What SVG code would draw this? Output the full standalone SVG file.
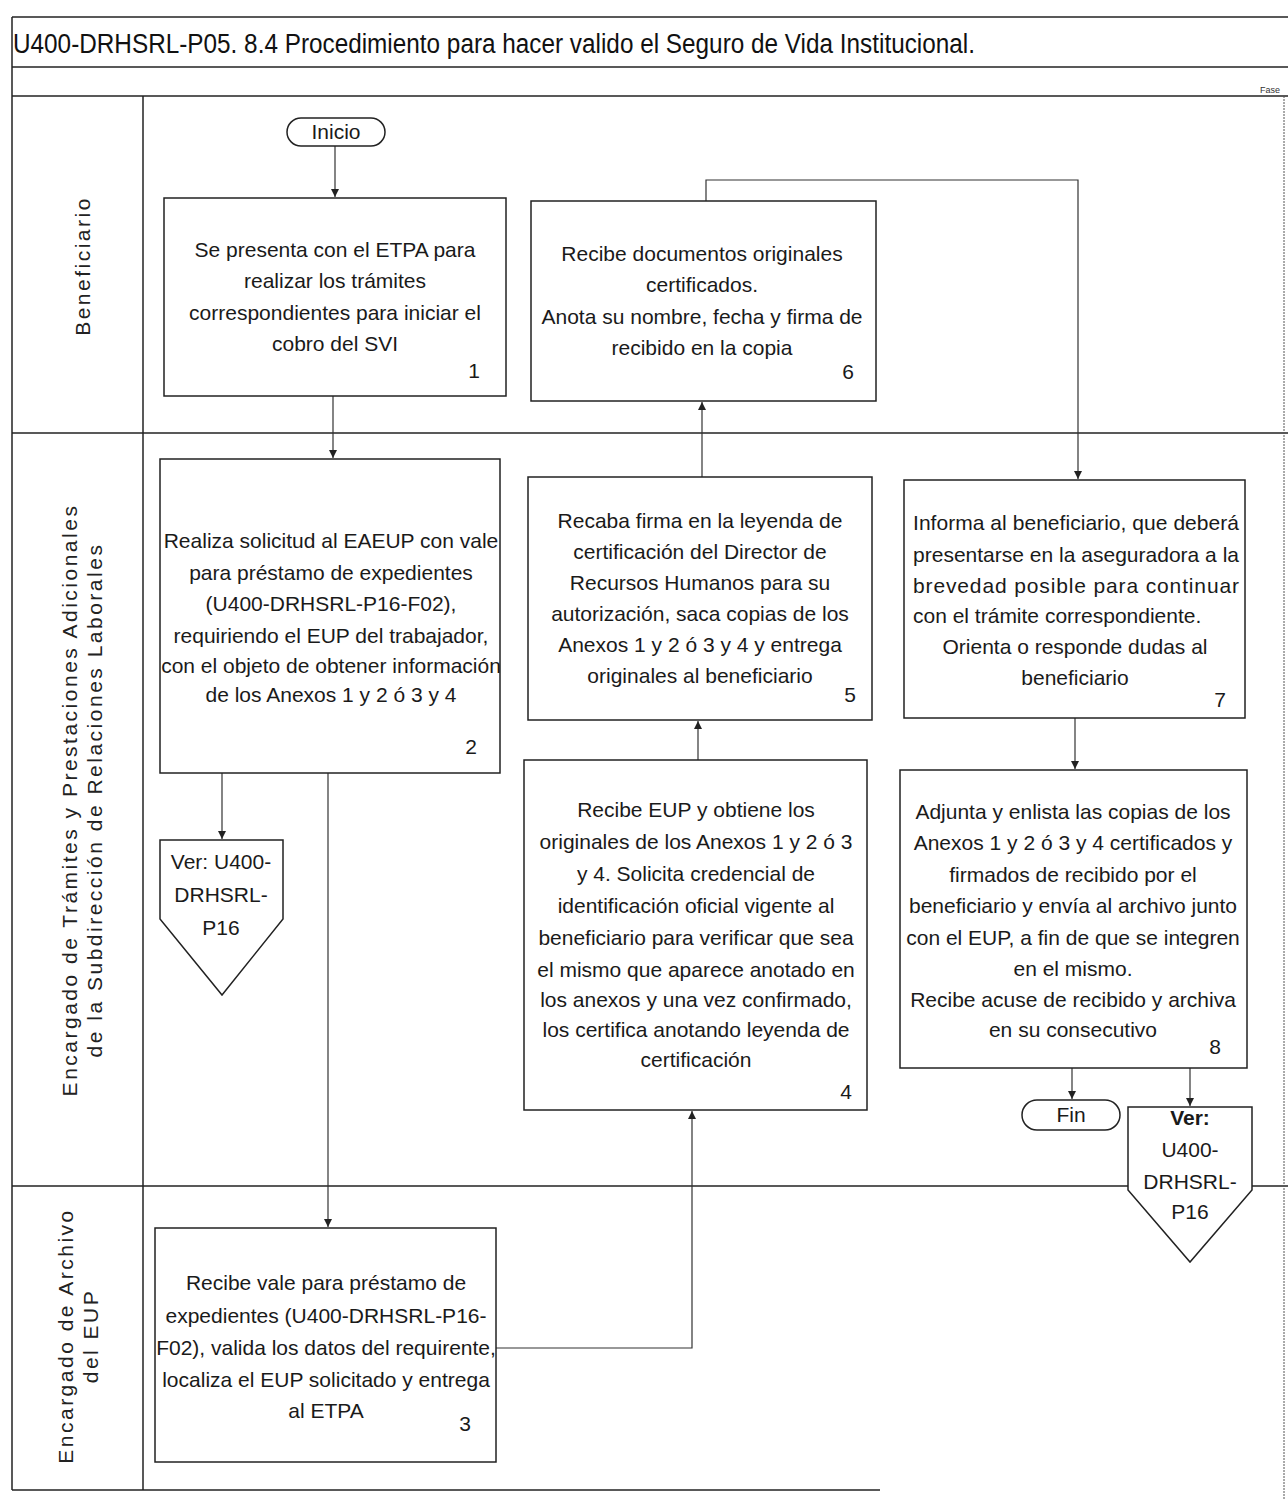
<svg xmlns="http://www.w3.org/2000/svg" width="1288" height="1499" viewBox="0 0 1288 1499">
<style>
.frame{stroke:#222;stroke-width:1.5;fill:none}
.thin{stroke:#555;stroke-width:1;fill:none;stroke-dasharray:2 1}
.box{fill:#fff;stroke:#222;stroke-width:1.5}
.conn{stroke:#333;stroke-width:1.2;fill:none}
.t{font-family:"Liberation Sans",Arial,sans-serif;font-size:21px;fill:#1a1a1a;text-anchor:middle}
.ttl{font-family:"Liberation Sans",Arial,sans-serif;font-size:27px;fill:#111}
.lane{font-family:"Liberation Sans",Arial,sans-serif;font-size:21px;letter-spacing:2.5px;fill:#222;text-anchor:middle}
.n{text-anchor:end}
.l{text-anchor:start}
.b{font-weight:bold}
</style>
<defs>
<marker id="arr" markerWidth="9" markerHeight="9" refX="8" refY="4" orient="auto" markerUnits="userSpaceOnUse">
<path d="M0,0 L8,4 L0,8 z" fill="#222"/>
</marker>
</defs>
<rect width="1288" height="1499" fill="#fff"/>
<g id="frame">
<line class="frame" x1="12" y1="17" x2="1288" y2="17"/>
<line class="frame" x1="12" y1="67" x2="1288" y2="67"/>
<line class="frame" x1="12" y1="96" x2="1288" y2="96"/>
<line class="frame" x1="12" y1="17" x2="12" y2="1490"/>
<line class="frame" x1="143" y1="96" x2="143" y2="1490"/>
<line class="frame" x1="12" y1="433" x2="1288" y2="433"/>
<line class="frame" x1="12" y1="1186" x2="1288" y2="1186"/>
<line class="frame" x1="12" y1="1490" x2="880" y2="1490"/>
<line class="thin" x1="1284" y1="96" x2="1284" y2="1499"/>
<text class="ttl" x="13" y="53" textLength="962" lengthAdjust="spacingAndGlyphs">U400-DRHSRL-P05. 8.4 Procedimiento para hacer valido el Seguro de Vida Institucional.</text>
<text x="1260" y="93" font-family="Liberation Sans,sans-serif" font-size="9" fill="#333">Fase</text>
<text class="lane" transform="translate(90,266) rotate(-90)">Beneficiario</text>
<text class="lane" transform="translate(77,800) rotate(-90)">Encargado de Trámites y Prestaciones Adicionales</text>
<text class="lane" transform="translate(102,800) rotate(-90)">de la Subdirección de Relaciones Laborales</text>
<text class="lane" transform="translate(73,1336) rotate(-90)">Encargado de Archivo</text>
<text class="lane" transform="translate(98,1336) rotate(-90)">del EUP</text>
</g>
<g id="connectors">
<path class="conn" d="M335,146 V197" marker-end="url(#arr)"/>
<path class="conn" d="M333,396 V458" marker-end="url(#arr)"/>
<path class="conn" d="M222,773 V839" marker-end="url(#arr)"/>
<path class="conn" d="M328,773 V1227" marker-end="url(#arr)"/>
<path class="conn" d="M496,1348 H692 V1111" marker-end="url(#arr)"/>
<path class="conn" d="M698,760 V721" marker-end="url(#arr)"/>
<path class="conn" d="M702,477 V402" marker-end="url(#arr)"/>
<path class="conn" d="M706,201 V180 H1078 V479" marker-end="url(#arr)"/>
<path class="conn" d="M1075,718 V769" marker-end="url(#arr)"/>
<path class="conn" d="M1072,1068 V1099" marker-end="url(#arr)"/>
<path class="conn" d="M1190,1068 V1106" marker-end="url(#arr)"/>
</g>
<g id="inicio">
<rect class="box" x="287" y="118" width="98" height="28" rx="14"/>
<text class="t" x="336" y="139">Inicio</text>
</g>
<g id="n1">
<rect class="box" x="164" y="198" width="342" height="198"/>
<text class="t" x="335" y="257">Se presenta con el ETPA para</text>
<text class="t" x="335" y="288">realizar los trámites</text>
<text class="t" x="335" y="320">correspondientes para iniciar el</text>
<text class="t" x="335" y="351">cobro del SVI</text>
<text class="t n" x="480" y="378">1</text>
</g>
<g id="n2">
<rect class="box" x="160" y="459" width="340" height="314"/>
<text class="t" x="331" y="548">Realiza solicitud al EAEUP con vale</text>
<text class="t" x="331" y="580">para préstamo de expedientes</text>
<text class="t" x="331" y="611">(U400-DRHSRL-P16-F02),</text>
<text class="t" x="331" y="643">requiriendo el EUP del trabajador,</text>
<text class="t" x="331" y="673">con el objeto de obtener información</text>
<text class="t" x="331" y="702">de los Anexos 1 y 2 ó 3 y 4</text>
<text class="t n" x="477" y="754">2</text>
</g>
<g id="ref1">
<path class="box" d="M160,840 H283 V919 L222,995 L160,919 Z"/>
<text class="t" x="221" y="869">Ver: U400-</text>
<text class="t" x="221" y="902">DRHSRL-</text>
<text class="t" x="221" y="935">P16</text>
</g>
<g id="n3">
<rect class="box" x="155" y="1228" width="341" height="234"/>
<text class="t" x="326" y="1290">Recibe vale para préstamo de</text>
<text class="t" x="326" y="1323">expedientes (U400-DRHSRL-P16-</text>
<text class="t" x="326" y="1355">F02), valida los datos del requirente,</text>
<text class="t" x="326" y="1387">localiza el EUP solicitado y entrega</text>
<text class="t" x="326" y="1418">al ETPA</text>
<text class="t n" x="471" y="1431">3</text>
</g>
<g id="n4">
<rect class="box" x="524" y="760" width="343" height="350"/>
<text class="t" x="696" y="817">Recibe EUP y obtiene los</text>
<text class="t" x="696" y="849">originales de los Anexos 1 y 2 ó 3</text>
<text class="t" x="696" y="881">y 4. Solicita credencial de</text>
<text class="t" x="696" y="913">identificación oficial vigente al</text>
<text class="t" x="696" y="945">beneficiario para verificar que sea</text>
<text class="t" x="696" y="977">el mismo que aparece anotado en</text>
<text class="t" x="696" y="1007">los anexos y una vez confirmado,</text>
<text class="t" x="696" y="1037">los certifica anotando leyenda de</text>
<text class="t" x="696" y="1067">certificación</text>
<text class="t n" x="852" y="1099">4</text>
</g>
<g id="n5">
<rect class="box" x="528" y="477" width="344" height="243"/>
<text class="t" x="700" y="528">Recaba firma en la leyenda de</text>
<text class="t" x="700" y="559">certificación del Director de</text>
<text class="t" x="700" y="590">Recursos Humanos para su</text>
<text class="t" x="700" y="621">autorización, saca copias de los</text>
<text class="t" x="700" y="652">Anexos 1 y 2 ó 3 y 4 y entrega</text>
<text class="t" x="700" y="683">originales al beneficiario</text>
<text class="t n" x="856" y="702">5</text>
</g>
<g id="n6">
<rect class="box" x="531" y="201" width="345" height="200"/>
<text class="t" x="702" y="261">Recibe documentos originales</text>
<text class="t" x="702" y="292">certificados.</text>
<text class="t" x="702" y="324">Anota su nombre, fecha y firma de</text>
<text class="t" x="702" y="355">recibido en la copia</text>
<text class="t n" x="854" y="379">6</text>
</g>
<g id="n7">
<rect class="box" x="904" y="480" width="341" height="238"/>
<text class="t l" x="913" y="530" textLength="326" lengthAdjust="spacing">Informa al beneficiario, que deberá</text>
<text class="t l" x="913" y="562" textLength="326" lengthAdjust="spacing">presentarse en la aseguradora a la</text>
<text class="t l" x="913" y="593" textLength="326" lengthAdjust="spacing">brevedad posible para continuar</text>
<text class="t l" x="913" y="623">con el trámite correspondiente.</text>
<text class="t" x="1075" y="654">Orienta o responde dudas al</text>
<text class="t" x="1075" y="685">beneficiario</text>
<text class="t n" x="1226" y="707">7</text>
</g>
<g id="n8">
<rect class="box" x="900" y="770" width="347" height="298"/>
<text class="t" x="1073" y="819">Adjunta y enlista las copias de los</text>
<text class="t" x="1073" y="850">Anexos 1 y 2 ó 3 y 4 certificados y</text>
<text class="t" x="1073" y="882">firmados de recibido por el</text>
<text class="t" x="1073" y="913">beneficiario y envía al archivo junto</text>
<text class="t" x="1073" y="945">con el EUP, a fin de que se integren</text>
<text class="t" x="1073" y="976">en el mismo.</text>
<text class="t" x="1073" y="1007">Recibe acuse de recibido y archiva</text>
<text class="t" x="1073" y="1037">en su consecutivo</text>
<text class="t n" x="1221" y="1054">8</text>
</g>
<g id="fin">
<rect class="box" x="1022" y="1100" width="98" height="30" rx="15"/>
<text class="t" x="1071" y="1122">Fin</text>
</g>
<g id="ref2">
<path class="box" d="M1128,1107 H1252 V1190 L1190,1262 L1128,1190 Z"/>
<text class="t b" x="1190" y="1125">Ver:</text>
<text class="t" x="1190" y="1157">U400-</text>
<text class="t" x="1190" y="1189">DRHSRL-</text>
<text class="t" x="1190" y="1219">P16</text>
</g>
</svg>
